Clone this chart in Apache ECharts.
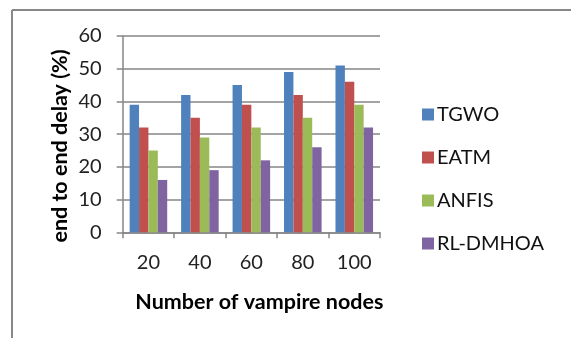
<!DOCTYPE html>
<html><head><meta charset="utf-8">
<script src="https://cdn.jsdelivr.net/npm/echarts@6/dist/echarts.min.js"></script>
<style>html,body{margin:0;padding:0;background:#fff}#c{width:571px;height:338px}</style>
</head><body><div id="c"></div>
<script>
var categories = ['20', '40', '60', '80', '100'];
var seriesNames = ['TGWO', 'EATM', 'ANFIS', 'RL-DMHOA'];
var tgwo = [39, 42, 45, 49, 51];
var eatm = [32, 35, 39, 42, 46];
var anfis = [25, 29, 32, 35, 39];
var rldmhoa = [16, 19, 22, 26, 32];
var yTicks = [0, 10, 20, 30, 40, 50, 60];
var colors = ['#4F81BD', '#C0504D', '#9BBB59', '#8064A2'];
var values = [tgwo, eatm, anfis, rldmhoa];
var font = 'Lato, "Open Sans", sans-serif';
var chart = echarts.init(document.getElementById('c'), null, {renderer: 'canvas'});
chart.setOption({
  animation: false,
  backgroundColor: '#fff',
  color: colors,
  grid: {left: 122.7, right: 191, top: 36, bottom: 105.7},
  legend: {
    orient: 'vertical', left: 417, top: 99, itemWidth: 12, itemHeight: 12, itemGap: 22,
    icon: 'rect', data: seriesNames,
    textStyle: {fontFamily: font, fontSize: 20, color: '#111', lineHeight: 21, padding: [0,0,0,-2]}
  },
  xAxis: {
    type: 'category', data: categories,
    axisLine: {lineStyle: {color: '#868686', width: 1.5}},
    axisTick: {show: true, length: 6, lineStyle: {color: '#868686', width: 1.5}},
    axisLabel: {fontFamily: font, fontSize: 20, color: '#222', margin: 20},
    name: 'Number of vampire nodes', nameLocation: 'middle', nameGap: 59,
    nameTextStyle: {fontFamily: font, fontSize: 21.5, fontWeight: 'bold', color: '#000', padding: [0,0,0,16]}
  },
  yAxis: {
    type: 'value', min: yTicks[0], max: yTicks[yTicks.length-1], interval: 10,
    axisLine: {show: true, lineStyle: {color: '#868686', width: 1.5}},
    axisTick: {show: true, length: 6, lineStyle: {color: '#868686', width: 1.5}},
    splitLine: {lineStyle: {color: '#868686', width: 1.5}},
    axisLabel: {fontFamily: font, fontSize: 20, color: '#222', margin: 21}
  },
  graphic: [
    {type: 'line', shape: {x1: 12, y1: 10, x2: 571, y2: 10}, style: {stroke: '#888', lineWidth: 2}},
    {type: 'line', shape: {x1: 12, y1: 10, x2: 12, y2: 338}, style: {stroke: '#888', lineWidth: 2}},
    {type: 'text', x: 60, y: 146, rotation: Math.PI/2,
     style: {text: 'end to end delay (%)', fontFamily: font, fontSize: 21.5, fontWeight: 'bold', fill: '#000', align: 'center', verticalAlign: 'middle'}}
  ],
  series: seriesNames.map(function(n, i){
    return {name: n, type: 'bar', data: values[i], barGap: '0%', barCategoryGap: '27%'};
  })
});
</script></body></html>
